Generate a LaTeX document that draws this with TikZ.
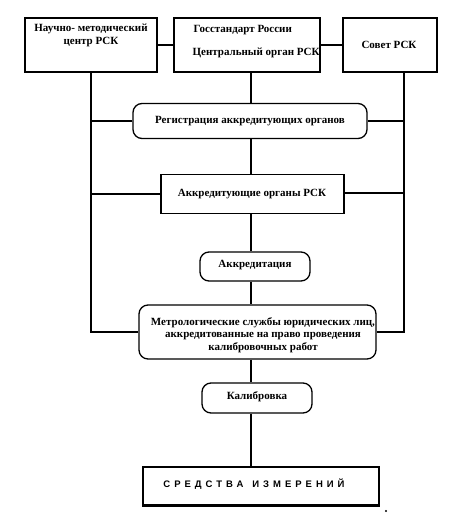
\documentclass[tikz,border=0pt]{standalone}
\usepackage{fontspec}
\setmainfont{Liberation Serif}
\newfontfamily\sifont[LetterSpace=42]{Liberation Sans}
\begin{document}
\begin{tikzpicture}[x=1pt,y=-1pt,
  line width=1.3pt,
  box/.style={draw,rectangle,inner sep=0pt},
  rbox/.style={draw,rectangle,rounded corners=9pt,inner sep=0pt},
  txt/.style={font=\bfseries\fontsize{11}{12.5}\selectfont,inner sep=0pt,align=center},
  conn/.style={line width=1.4pt}]
\useasboundingbox (0,0) rectangle (468,522);
% boxes
\node[box,minimum width=132pt,minimum height=54pt] (nmc) at (91,45) {};
\node[box,minimum width=146pt,minimum height=54pt] (gs) at (247,45) {};
\node[box,minimum width=94pt,minimum height=54pt] (sov) at (390,45) {};
\node[rbox,minimum width=234pt,minimum height=35pt] (reg) at (250,121) {};
\node[box,minimum width=183pt,minimum height=39pt] (ak) at (252.5,194) {};
\node[rbox,minimum width=110pt,minimum height=29pt] (akr) at (255,266.5) {};
\node[rbox,minimum width=237pt,minimum height=54pt] (met) at (257.5,332) {};
\node[rbox,minimum width=110pt,minimum height=30pt] (kal) at (257,398) {};
\node[box,minimum width=236pt,minimum height=38pt] (si) at (261,486) {};
% texts
\node[txt,anchor=north] (t1) at (91,23.5) {Научно- методический\\центр РСК};
\node[txt,anchor=west] (t2) at (193,30) {Госстандарт России};
\node[txt,anchor=west] (t3) at (192,53) {Центральный орган РСК};
\node[txt] (t4) at (389,45) {Совет РСК};
\node[txt] (t5) at (250,121) {Регистрация аккредитующих органов};
\node[txt] (t6) at (252,194) {Аккредитующие органы РСК};
\node[txt] (t7) at (255,265) {Аккредитация};
\node[txt] (t8) at (263,335) {Метрологические службы юридических лиц,\\аккредитованные на право проведения\\калибровочных работ};
\node[txt] (t9) at (257,397) {Калибровка};
\node[font=\sifont\bfseries\fontsize{9.5}{11}\selectfont,inner sep=0pt] (t10) at (254,484) {СРЕДСТВА\hspace{9pt}ИЗМЕРЕНИЙ};
% connectors
\coordinate (spine) at (251,0);
\coordinate (rline) at (404,72);
\draw[conn] (nmc.east) -- (gs.west);
\draw[conn] (gs.east) -- (sov.west);
\draw[conn] (nmc.south) |- (met.west);
\draw[conn] (rline) |- (met.east);
\draw[conn] (reg.west) -- (reg.west -| nmc.south);
\draw[conn] (reg.east) -- (reg.east -| rline);
\draw[conn] (ak.west) -- (ak.west -| nmc.south);
\draw[conn] ([yshift=1pt]ak.east) -- ([yshift=1pt]ak.east -| rline);
\draw[conn] (spine |- gs.south) -- (spine |- reg.north);
\draw[conn] (spine |- reg.south) -- (spine |- ak.north);
\draw[conn] (spine |- ak.south) -- (spine |- akr.north);
\draw[conn] (spine |- akr.south) -- (spine |- met.north);
\draw[conn] (spine |- met.south) -- (spine |- kal.north);
\draw[conn] (spine |- kal.south) -- (spine |- si.north);
\draw[line width=1.8pt] (si.south west) -- (si.south east);
\fill (386,511) circle (1.2pt);
\end{tikzpicture}
\end{document}
